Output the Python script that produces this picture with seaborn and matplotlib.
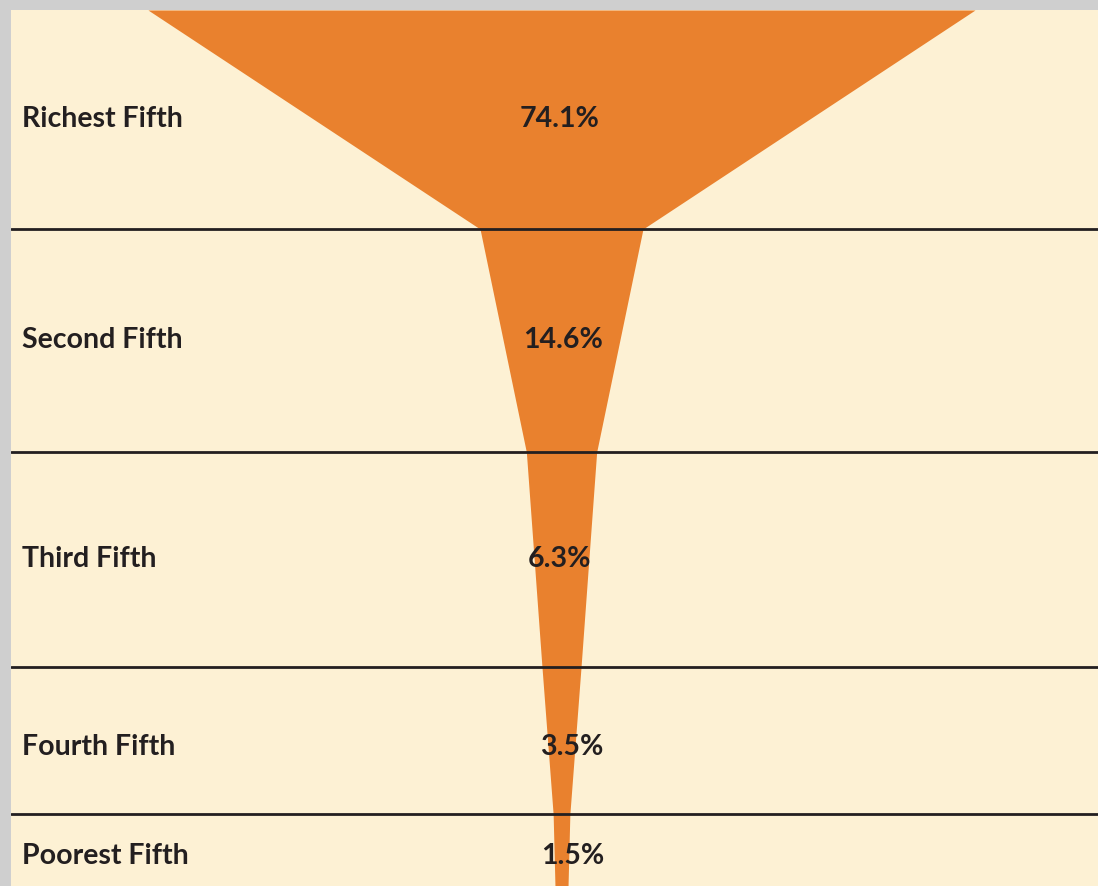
import numpy as np
import pandas as pd
import matplotlib
matplotlib.use('Agg')
import matplotlib.pyplot as plt
import seaborn as sns

# share of wealth held by each fifth of households
groups = ['Richest Fifth', 'Second Fifth', 'Third Fifth', 'Fourth Fifth', 'Poorest Fifth']
shares = [74.1, 14.6, 6.3, 3.5, 1.5]
share_labels = ['74.1%', '14.6%', '6.3%', '3.5%', '1.5%']

# layout (pixels from top of the image)
row_edges = [10, 229, 452, 667, 814, 886]
label_y = [119, 340, 559, 747, 856]
label_dx = [-0.2, 0.1, -0.2, 0.9, 1.0]  # small nudges of the % labels
tail_ratio = 0.78  # the bottom band is cut off by the frame

orange = '#e9812e'
cream = '#fdf1d4'
ink = '#231f20'


def run():
	sns.set_theme(style='white')
	plt.rcParams['font.family'] = ['Lato', 'DejaVu Sans']

	fig = plt.figure(figsize=(10.98, 8.86), dpi=100, facecolor='#cfcfcf')
	W, H = 1098, 886
	ax = fig.add_axes([11 / W, 0, 1 - 11 / W, 1 - 10 / H])
	ax.set_facecolor(cream)

	# funnel outline: width at the top of each band follows its share
	df = pd.DataFrame({'group': groups, 'share': shares,
		'top': row_edges[:-1], 'bottom': row_edges[1:]})
	ys = list(df['top']) + [row_edges[-1]]
	widths = list(df['share']) + [shares[-1] * tail_ratio]
	prof = pd.DataFrame({'y': ys, 'half': np.array(widths) / 2})
	ax.fill_betweenx(prof['y'], -prof['half'], prof['half'], color=orange, lw=0, zorder=1)

	# row separators
	for y in row_edges[1:-1]:
		ax.axhline(y, color=ink, lw=2.0, zorder=2)

	# scale: 827 px of the image == 74.1 share units
	pxu = 827 / shares[0]
	cx = 561.5 - 11
	ax.set_xlim(-cx / pxu, (W - 11 - cx) / pxu)
	ax.set_ylim(row_edges[-1], row_edges[0])

	for i, row in df.iterrows():
		yc = label_y[i]
		ax.text(0.01, yc, row['group'], transform=ax.get_yaxis_transform(),
			ha='left', va='center', fontsize=20.5, fontweight='bold', color=ink, zorder=3)
		ax.text(label_dx[i], yc, share_labels[i], ha='center', va='center',
			fontsize=20.5, fontweight='bold', color=ink, zorder=3)

	ax.set_xticks([])
	ax.set_yticks([])
	sns.despine(ax=ax, left=True, bottom=True)

	fig.savefig('out.png', dpi=100, facecolor=fig.get_facecolor())


if __name__ == '__main__':
	run()
